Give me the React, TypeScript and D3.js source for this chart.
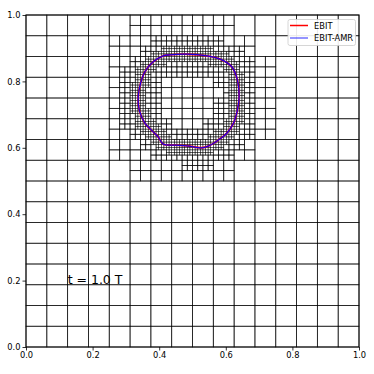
import React, { useEffect, useRef } from 'react';
import * as d3 from 'd3';

// interface points (x, y in domain units)
const curveX = [0.412, 0.382, 0.357, 0.344, 0.337, 0.340, 0.357, 0.382, 0.397, 0.412, 0.447, 0.483, 0.528, 0.547, 0.577, 0.603, 0.623, 0.635, 0.640, 0.635, 0.618, 0.583, 0.543, 0.483, 0.432];
const curveY = [0.877, 0.859, 0.829, 0.794, 0.754, 0.714, 0.674, 0.648, 0.633, 0.611, 0.608, 0.606, 0.600, 0.605, 0.623, 0.644, 0.674, 0.714, 0.754, 0.804, 0.844, 0.867, 0.877, 0.882, 0.880];

// refinement distance per level (base grid 16 -> 32 -> 64 -> 128)
const refineDist = [0.115, 0.06, 0.024];
const baseLevel = 16;

const ticks = [0, 0.2, 0.4, 0.6, 0.8, 1.0];
const legendLabels = ['EBIT', 'EBIT-AMR'];
const legendColors = ['#ff0000', '#3333ff'];

function segDist(px: number, py: number, ax: number, ay: number, bx: number, by: number) {
  const dx = bx - ax, dy = by - ay;
  let t = ((px - ax) * dx + (py - ay) * dy) / (dx * dx + dy * dy);
  t = Math.max(0, Math.min(1, t));
  const qx = ax + t * dx - px, qy = ay + t * dy - py;
  return Math.sqrt(qx * qx + qy * qy);
}

function distToCurve(px: number, py: number) {
  let best = Infinity;
  const n = curveX.length;
  for (let i = 0; i < n; i++) {
    const j = (i + 1) % n;
    best = Math.min(best, segDist(px, py, curveX[i], curveY[i], curveX[j], curveY[j]));
  }
  return best;
}

export default function App() {
  const ref = useRef<SVGSVGElement>(null);

  useEffect(() => {
    const svg = d3.select(ref.current);
    svg.selectAll('*').remove();

    const left = 26, right = 359, top = 15, bottom = 347;
    const x = d3.scaleLinear().domain([0, 1]).range([left, right]);
    const y = d3.scaleLinear().domain([0, 1]).range([bottom, top]);

    // build the quadtree cells
    const cells: { x0: number; y0: number; s: number }[] = [];
    const refine = (x0: number, y0: number, s: number, lvl: number) => {
      const d = distToCurve(x0 + s / 2, y0 + s / 2);
      if (lvl < refineDist.length && d < refineDist[lvl]) {
        const h = s / 2;
        refine(x0, y0, h, lvl + 1);
        refine(x0 + h, y0, h, lvl + 1);
        refine(x0, y0 + h, h, lvl + 1);
        refine(x0 + h, y0 + h, h, lvl + 1);
      } else {
        cells.push({ x0, y0, s });
      }
    };
    const s0 = 1 / baseLevel;
    for (let i = 0; i < baseLevel; i++) {
      for (let j = 0; j < baseLevel; j++) {
        refine(i * s0, j * s0, s0, 0);
      }
    }

    const plot = svg.append('g');
    plot.selectAll('rect.cell')
      .data(cells)
      .enter().append('rect')
      .attr('class', 'cell')
      .attr('x', d => x(d.x0))
      .attr('y', d => y(d.y0 + d.s))
      .attr('width', d => x(d.s) - x(0))
      .attr('height', d => y(0) - y(d.s))
      .attr('fill', 'none')
      .attr('stroke', '#000')
      .attr('stroke-opacity', d => (d.s < 0.01 ? 0.65 : 0.75))
      .attr('stroke-width', d => (d.s < 0.01 ? 0.6 : 0.8));

    const pts: [number, number][] = curveX.map((cx, i) => [x(cx), y(curveY[i])]);
    const line = d3.line().curve(d3.curveCatmullRomClosed);
    plot.append('path').attr('d', line(pts)).attr('fill', 'none')
      .attr('stroke', legendColors[0]).attr('stroke-width', 1.9);
    plot.append('path').attr('d', line(pts)).attr('fill', 'none')
      .attr('stroke', '#0000ff').attr('stroke-opacity', 0.9).attr('stroke-width', 1.3);

    // frame
    svg.append('rect').attr('x', left).attr('y', top).attr('width', right - left).attr('height', bottom - top)
      .attr('fill', 'none').attr('stroke', '#000').attr('stroke-width', 1);

    const fmt = d3.format('.1f');
    const xAxis = svg.append('g').attr('transform', `translate(0,${bottom})`)
      .call(d3.axisBottom(x).tickValues(ticks).tickFormat(d => fmt(d as number)).tickSize(3.5).tickPadding(2));
    const yAxis = svg.append('g').attr('transform', `translate(${left},0)`)
      .call(d3.axisLeft(y).tickValues(ticks).tickFormat(d => fmt(d as number)).tickSize(3.5).tickPadding(2));
    [xAxis, yAxis].forEach(a => {
      a.select('.domain').remove();
      a.selectAll('text').attr('font-family', 'DejaVu Sans').attr('font-size', 8.3).attr('fill', '#000');
      a.selectAll('line').attr('stroke', '#000').attr('stroke-width', 0.8);
    });

    svg.append('text').attr('x', x(0.125)).attr('y', y(0.19))
      .attr('font-family', 'DejaVu Sans').attr('font-size', 12.5).text('t = 1.0 T');

    // legend
    const lg = svg.append('g');
    lg.append('rect').attr('x', 288).attr('y', 19.5).attr('width', 67.5).attr('height', 26)
      .attr('rx', 2).attr('fill', '#fff').attr('fill-opacity', 0.9)
      .attr('stroke', '#ccc').attr('stroke-width', 0.8);
    legendLabels.forEach((lab, i) => {
      const cy = 25.5 + i * 12.5;
      lg.append('line').attr('x1', 290).attr('x2', 308).attr('y1', cy).attr('y2', cy)
        .attr('stroke', legendColors[i]).attr('stroke-width', 1.5).attr('stroke-opacity', i === 1 ? 0.7 : 1);
      lg.append('text').attr('x', 314).attr('y', cy + 3)
        .attr('font-family', 'DejaVu Sans').attr('font-size', 8.3).text(lab);
    });
  }, []);

  return (
    <svg ref={ref} width={374} height={374}
      style={{ position: 'absolute', left: 0, top: 0, background: '#fff' }} />
  );
}
